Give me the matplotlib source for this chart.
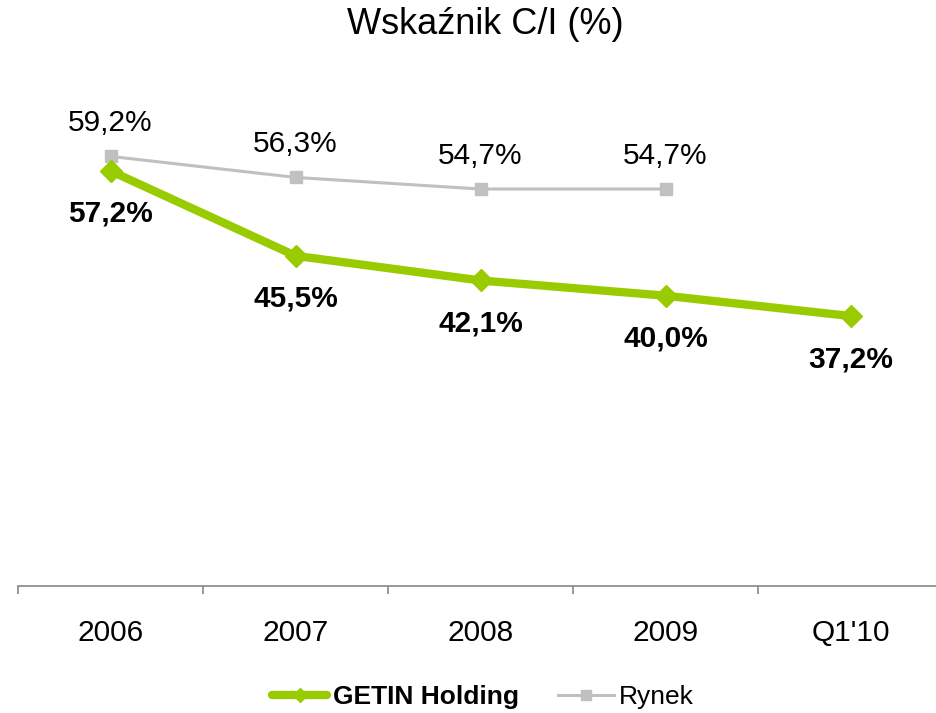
import matplotlib
matplotlib.use("Agg")
import matplotlib.pyplot as plt

plt.rcParams['font.family'] = ['Liberation Sans', 'DejaVu Sans']

categories = ["2006", "2007", "2008", "2009", "Q1'10"]
getin = [57.2, 45.5, 42.1, 40.0, 37.2]
rynek = [59.2, 56.3, 54.7, 54.7]
getin_labels = ["57,2%", "45,5%", "42,1%", "40,0%", "37,2%"]
rynek_labels = ["59,2%", "56,3%", "54,7%", "54,7%"]
title = "Wskaźnik C/I (%)"

green = "#99CC00"
gray = "#C0C0C0"

fig = plt.figure(figsize=(9.36, 7.13), dpi=100)
ax = fig.add_axes([18/936, 1 - 586/713, 925/936, 508/713])

x_g = list(range(len(getin)))
x_r = list(range(len(rynek)))

l2, = ax.plot(x_r, rynek, color=gray, lw=2.2, marker='s', ms=8, mfc=gray, mec=gray,
              label="Rynek", zorder=2)
l1, = ax.plot(x_g, getin, color=green, lw=6, marker='D', ms=11, mfc=green, mec=green,
              label="GETIN Holding", zorder=3, solid_capstyle='round')

for xi, v, t in zip(x_r, rynek, rynek_labels):
    ax.annotate(t, (xi, v), xytext=(0, 24), textcoords='offset points',
                ha='center', va='center', fontsize=21.5, color='black')
for xi, v, t in zip(x_g, getin, getin_labels):
    ax.annotate(t, (xi, v), xytext=(0, -31), textcoords='offset points',
                ha='center', va='center', fontsize=21.5, fontweight='bold', color='black')

ax.set_xlim(-0.5, 4.5)
ax.set_ylim(0, 70)
ax.set_yticks([])
ax.set_xticks([i + 0.5 for i in range(-1, 5)], minor=False)
ax.set_xticklabels([])
ax.set_xticks(range(len(categories)), minor=True)
ax.set_xticklabels(categories, minor=True, fontsize=21.5)
ax.tick_params(axis='x', which='major', length=6, width=1.2, color='#888888', direction='out')
ax.tick_params(axis='x', which='minor', length=0, pad=24)

for s in ['top', 'right', 'left']:
    ax.spines[s].set_visible(False)
ax.spines['bottom'].set_color('#888888')
ax.spines['bottom'].set_linewidth(1.2)

fig.text(485/936, 1 - 24/713, title, ha='center', va='center', fontsize=26)

leg = fig.legend(handles=[l1, l2], loc='center', bbox_to_anchor=(483/936, 1 - 697/713),
                 ncol=2, frameon=False, fontsize=19, handlelength=2.1,
                 handletextpad=0.2, columnspacing=1.5)
for txt in leg.get_texts():
    if txt.get_text() == "GETIN Holding":
        txt.set_fontweight('bold')
for h in leg.legend_handles:
    h.set_markersize(7)

fig.savefig("out.png", dpi=100)
